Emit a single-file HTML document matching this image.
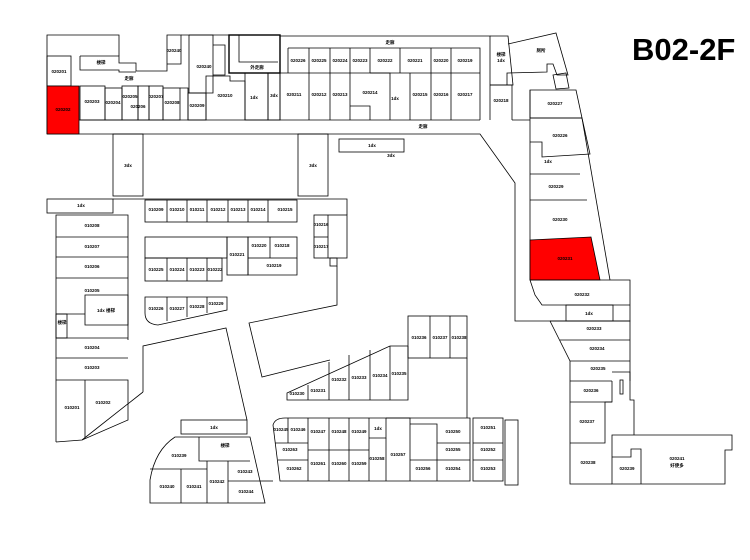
<!DOCTYPE html>
<html><head><meta charset="utf-8"><style>
html,body{margin:0;padding:0;background:#fff;width:750px;height:560px;overflow:hidden}
svg{display:block}
text{font-family:"Liberation Sans","Noto Sans CJK SC",sans-serif;font-size:4.5px;font-weight:bold;text-anchor:middle;fill:#000}
.t{font-size:31px;font-weight:bold;text-anchor:start}
</style></head><body>
<svg width="750" height="560" viewBox="0 0 750 560" xmlns="http://www.w3.org/2000/svg">
<g fill="none" stroke="#000" stroke-width="0.8">
<polyline points="47,134 47,35 119,35 119,56"/>
<polyline points="80,56 119,56 119,63 136,63 136,71 167,71 167,35 181,35 181,64 167,64"/>
<polyline points="80,56 80,70 119,70 119,72 136,72"/>
<rect x="47" y="56" width="24" height="30"/>
<polyline points="189,35 189,93 213,93 213,35 189,35"/>
<polyline points="181,35 229,35"/>
<polyline points="213,45 225,45 225,75 213,75"/>
<rect x="229" y="35" width="51" height="38" stroke-width="1.4"/>
<polyline points="239,35 239,62 278,62"/>
<polyline points="79,120 480,120"/>
<polyline points="79,134 480,134 515,183 515,321 565,321"/>
<line x1="47" y1="134" x2="79" y2="134"/>
<rect x="80" y="86" width="25" height="34"/>
<rect x="105" y="88" width="17" height="32"/>
<rect x="122" y="86" width="16" height="34"/>
<rect x="138" y="86" width="11" height="34"/>
<rect x="149" y="86" width="14" height="34"/>
<rect x="163" y="88" width="17" height="32"/>
<polyline points="180,88 188,88 188,120"/>
<rect x="188" y="93" width="18" height="27"/>
<polyline points="206,120 206,76 230,76 230,81 245,81 245,120"/>
<rect x="245" y="73" width="23" height="47"/>
<rect x="268" y="73" width="12" height="47"/>
<polyline points="280,120 280,36 490,36 490,120"/>
<polyline points="288,48 288,73"/>
<polyline points="288,48 480,48 480,120"/>
<line x1="280" y1="73" x2="480" y2="73"/>
<line x1="309" y1="48" x2="309" y2="120"/>
<line x1="330" y1="48" x2="330" y2="120"/>
<line x1="350" y1="48" x2="350" y2="120"/>
<line x1="370" y1="48" x2="370" y2="73"/>
<line x1="400" y1="48" x2="400" y2="73"/>
<polyline points="370,73 390,73 390,120"/>
<polyline points="350,106 370,106 370,120"/>
<line x1="410" y1="73" x2="410" y2="120"/>
<line x1="431" y1="48" x2="431" y2="120"/>
<line x1="451" y1="48" x2="451" y2="120"/>
<polyline points="490,36 508,36 513,85 490,85"/>
<polyline points="490,85 512,85 512,120"/>
<polyline points="508,44 556,33 568,75 557,75 553,64 547,64 547,72 507,73 507,85"/>
<polygon points="553,75 566,73 569,88 556,89"/>
<polyline points="512,120 530,120"/>
<polygon points="530,90 576,90 582,118 530,118"/>
<polyline points="530,118 582,118 590,154 542,157 542,142 530,142"/>
<line x1="530" y1="90" x2="530" y2="280"/>
<polyline points="530,174 580,174"/>
<line x1="582" y1="118" x2="610" y2="280"/>
<line x1="530" y1="200" x2="587" y2="200"/>
<polygon points="530,240 591,237 600,280 530,280" fill="#ff0000"/>
<polyline points="530,280 630,280 630,321 565,321"/>
<polyline points="530,280 535,295 542,305 630,305"/>
<rect x="566" y="305" width="47" height="16"/>
<polyline points="550,321 630,321 630,381"/>
<polyline points="550,321 570,361 570,484 612,484"/>
<line x1="560" y1="340" x2="630" y2="340"/>
<line x1="570" y1="361" x2="630" y2="361"/>
<line x1="570" y1="381" x2="612" y2="381"/>
<polyline points="612,372 630,372 630,400 634,400 634,435"/>
<line x1="570" y1="402" x2="612" y2="402"/>
<polyline points="612,381 612,402 605,402 605,443 570,443"/>
<rect x="620" y="380" width="3" height="14"/>
<polygon points="612,435 732,435 732,450 725,450 725,484 612,484"/>
<polyline points="612,457 631,457 631,449 641,449 641,484"/>
<rect x="113" y="134" width="30" height="62"/>
<rect x="298" y="134" width="30" height="62"/>
<rect x="339" y="139" width="65" height="13"/>
<rect x="47" y="199" width="66" height="14"/>
<polyline points="113,199 347,199 347,215"/>
<polyline points="56,442 56,215 128,215 128,340"/>
<line x1="56" y1="237" x2="128" y2="237"/>
<line x1="56" y1="257" x2="128" y2="257"/>
<line x1="56" y1="278" x2="128" y2="278"/>
<polyline points="56,314 85,314 85,295 128,295 128,325 85,325 85,314"/>
<rect x="56" y="314" width="11" height="24"/>
<line x1="56" y1="338" x2="128" y2="338"/>
<line x1="56" y1="358" x2="128" y2="358"/>
<polyline points="56,380 128,380 128,420 82,440 56,442"/>
<line x1="85" y1="380" x2="85" y2="438"/>
<polyline points="143,392 143,346 226,328 247,420"/>
<line x1="143" y1="392" x2="82" y2="440"/>
<rect x="145" y="200" width="152" height="22"/>
<line x1="167" y1="200" x2="167" y2="222"/>
<line x1="187" y1="200" x2="187" y2="222"/>
<line x1="207" y1="200" x2="207" y2="222"/>
<line x1="228" y1="200" x2="228" y2="222"/>
<line x1="248" y1="200" x2="248" y2="222"/>
<line x1="268" y1="200" x2="268" y2="222"/>
<rect x="314" y="215" width="33" height="43"/>
<line x1="314" y1="237" x2="328" y2="237"/>
<line x1="328" y1="215" x2="328" y2="258"/>
<rect x="330" y="258" width="7" height="8"/>
<polyline points="337,266 337,305 249,323 262,377 330,360"/>
<rect x="145" y="237" width="82" height="21"/>
<rect x="145" y="258" width="77" height="23"/>
<line x1="167" y1="258" x2="167" y2="281"/>
<line x1="187" y1="258" x2="187" y2="281"/>
<line x1="207" y1="258" x2="207" y2="281"/>
<rect x="227" y="237" width="21" height="38"/>
<rect x="248" y="237" width="49" height="21"/>
<line x1="270" y1="237" x2="270" y2="258"/>
<polyline points="248,258 248,275 297,275 297,258"/>
<path d="M145,297 L227,297 L227,310 L158,325 Q145,324 145,313 Z"/>
<line x1="167" y1="297" x2="167" y2="321"/>
<line x1="187" y1="297" x2="187" y2="317"/>
<line x1="207" y1="297" x2="207" y2="313"/>
<rect x="408" y="316" width="59" height="42"/>
<line x1="430" y1="316" x2="430" y2="358"/>
<line x1="450" y1="316" x2="450" y2="358"/>
<polyline points="467,358 467,418"/>
<polyline points="408,346 408,400 287,400 287,393 390,346 408,346"/>
<line x1="390" y1="346" x2="390" y2="400"/>
<line x1="370" y1="350" x2="370" y2="400"/>
<line x1="349" y1="355" x2="349" y2="400"/>
<line x1="329" y1="362" x2="329" y2="400"/>
<line x1="308" y1="385" x2="308" y2="400"/>
<rect x="181" y="420" width="66" height="14"/>
<path d="M150,503 L150,480 Q155,450 175,437 L250,437 L265,503 Z"/>
<polyline points="199,437 199,461 250,461"/>
<line x1="150" y1="469" x2="207" y2="469"/>
<line x1="181" y1="469" x2="181" y2="503"/>
<line x1="207" y1="461" x2="207" y2="503"/>
<line x1="228" y1="461" x2="228" y2="503"/>
<line x1="228" y1="481" x2="262" y2="481"/>
<polyline points="262,481 273,481"/>
<path d="M280,481 L273,425 Q275,418 285,418 L470,418 L470,481 Z"/>
<line x1="275" y1="443" x2="308" y2="443"/>
<line x1="278" y1="460" x2="308" y2="460"/>
<line x1="288" y1="418" x2="288" y2="443"/>
<line x1="308" y1="418" x2="308" y2="481"/>
<line x1="308" y1="450" x2="369" y2="450"/>
<line x1="329" y1="418" x2="329" y2="481"/>
<line x1="349" y1="418" x2="349" y2="481"/>
<line x1="369" y1="418" x2="369" y2="481"/>
<polyline points="369,438 386,438 386,418"/>
<line x1="386" y1="438" x2="386" y2="481"/>
<polyline points="386,418 410,418 410,481"/>
<polyline points="410,424 437,424 437,481"/>
<polyline points="437,443 470,443"/>
<polyline points="410,460 437,460"/>
<polyline points="437,460 470,460"/>
<rect x="473" y="418" width="30" height="63"/>
<line x1="473" y1="443" x2="503" y2="443"/>
<line x1="473" y1="460" x2="503" y2="460"/>
<rect x="505" y="420" width="13" height="65"/>
</g>
<polygon points="47,86 79,86 79,134 47,134" fill="#ff0000" stroke="#000" stroke-width="0.8"/>
<g>
<text x="59" y="73">020201</text><text x="63" y="111">020202</text>
<text x="92" y="103">020203</text><text x="113" y="104">020204</text><text x="130" y="98">020205</text>
<text x="138" y="108">020206</text><text x="156" y="98">020207</text><text x="172" y="104">020208</text>
<text x="197" y="107">020209</text><text x="225" y="97">020210</text><text x="254" y="99">1dx</text>
<text x="274" y="97">3dx</text><text x="204" y="68">020240</text><text x="174" y="52">020240</text>
<text x="101" y="64">楼梯</text><text x="257" y="69">外走廊</text><text x="129" y="80">走廊</text>
<text x="298" y="62">020226</text><text x="319" y="62">020225</text><text x="340" y="62">020224</text>
<text x="360" y="62">020223</text><text x="385" y="62">020222</text><text x="415" y="62">020221</text>
<text x="441" y="62">020220</text><text x="465" y="62">020219</text>
<text x="294" y="96">020211</text><text x="319" y="96">020212</text><text x="340" y="96">020213</text>
<text x="370" y="94">020214</text><text x="395" y="100">1dx</text><text x="420" y="96">020215</text>
<text x="441" y="96">020216</text><text x="465" y="96">020217</text><text x="501" y="102">020218</text>
<text x="501" y="56">楼梯</text><text x="501" y="62">1dx</text><text x="541" y="52">厕所</text>
<text x="390" y="44">走廊</text><text x="423" y="128">走廊</text><text x="555" y="105">020227</text>
<text x="560" y="137">020226</text><text x="548" y="163">1dx</text><text x="556" y="188">020229</text>
<text x="560" y="221">020230</text><text x="565" y="260">020231</text><text x="582" y="296">020232</text>
<text x="589" y="315">1dx</text><text x="594" y="330">020233</text><text x="597" y="350">020234</text>
<text x="598" y="370">020235</text><text x="591" y="392">020236</text><text x="587" y="423">020237</text>
<text x="588" y="464">020238</text><text x="627" y="470">020239</text>
<text x="677" y="460">020241</text><text x="677" y="467">好便多</text>
<text x="128" y="167">3dx</text><text x="313" y="167">3dx</text><text x="372" y="147">1dx</text>
<text x="391" y="157">3dx</text><text x="81" y="207">1dx</text>
<text x="92" y="227">010208</text><text x="92" y="248">010207</text><text x="92" y="268">010206</text>
<text x="92" y="292">010205</text><text x="106" y="312">1dx 楼梯</text><text x="62" y="324">楼梯</text>
<text x="92" y="349">010204</text><text x="92" y="369">010203</text>
<text x="72" y="409">010201</text><text x="103" y="404">010202</text>
<text x="156" y="211">010209</text><text x="177" y="211">010210</text><text x="197" y="211">010211</text>
<text x="218" y="211">010212</text><text x="238" y="211">010213</text><text x="258" y="211">010214</text>
<text x="285" y="211">010215</text><text x="321" y="226">010216</text><text x="321" y="248">010217</text>
<text x="237" y="256">010221</text><text x="259" y="247">010220</text><text x="282" y="247">010218</text>
<text x="274" y="267">010219</text><text x="156" y="271">010225</text><text x="177" y="271">010224</text>
<text x="197" y="271">010223</text><text x="215" y="271">010222</text>
<text x="156" y="310">010226</text><text x="177" y="310">010227</text><text x="197" y="308">010228</text>
<text x="216" y="305">010229</text>
<text x="419" y="339">010236</text><text x="440" y="339">010237</text><text x="459" y="339">010238</text>
<text x="399" y="375">010235</text><text x="380" y="377">010234</text><text x="359" y="379">010233</text>
<text x="339" y="381">010232</text><text x="318" y="392">010231</text><text x="297" y="395">010230</text>
<text x="214" y="429">1dx</text><text x="225" y="447">楼梯</text>
<text x="179" y="457">010239</text><text x="167" y="488">010240</text><text x="194" y="488">010241</text>
<text x="217" y="483">010242</text><text x="245" y="473">010243</text><text x="246" y="493">010244</text>
<text x="281" y="431">010245</text><text x="298" y="431">010246</text><text x="318" y="433">010247</text>
<text x="339" y="433">010248</text><text x="359" y="433">010249</text><text x="378" y="430">1dx</text>
<text x="453" y="433">010250</text><text x="290" y="451">010263</text><text x="294" y="470">010262</text>
<text x="318" y="465">010261</text><text x="339" y="465">010260</text><text x="359" y="465">010259</text>
<text x="377" y="460">010258</text><text x="398" y="456">010257</text><text x="423" y="470">010256</text>
<text x="453" y="451">010255</text><text x="453" y="470">010254</text>
<text x="488" y="429">010251</text><text x="488" y="451">010252</text><text x="488" y="470">010253</text>
</g>
<text class="t" x="632" y="60">B02-2F</text>
</svg>
</body></html>
